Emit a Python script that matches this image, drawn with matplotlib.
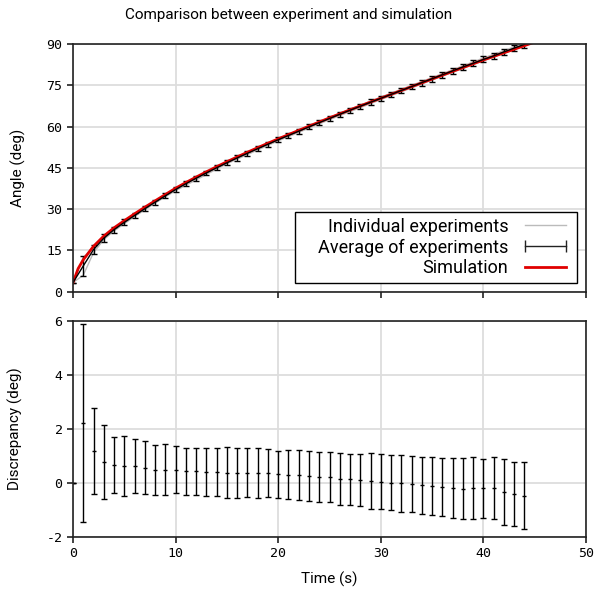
import matplotlib
matplotlib.use('Agg')
import matplotlib.pyplot as plt
from matplotlib.lines import Line2D

plt.rcParams['font.family'] = ['Roboto', 'DejaVu Sans']
plt.rcParams['axes.unicode_minus'] = False

# time of the averaged samples (s)
time = list(range(0, 45))

# simulation angle (deg)
sim_time = [0, 0.5] + list(range(1, 46))
sim_angle = [3.3, 8.4, 11.6, 16.5, 20.2, 23.2, 25.8, 28.3, 30.7, 33.0, 35.3, 37.6,
             39.65, 41.63, 43.55, 45.41, 47.21, 48.96, 50.66, 52.32, 53.94, 55.52,
             57.07, 58.61, 60.14, 61.65, 63.15, 64.62, 66.07, 67.5, 68.91, 70.3,
             71.7, 73.1, 74.49, 75.88, 77.27, 78.66, 80.05, 81.43, 82.81, 84.19,
             85.5, 86.8, 88.1, 89.4, 90.7]

# average of experiments (deg)
avg_angle = [3.3, 9.37, 15.3, 19.41, 22.53, 25.17, 27.67, 30.13, 32.51, 34.81, 37.11,
             39.22, 41.2, 43.14, 45.01, 46.83, 48.59, 50.28, 51.95, 53.57, 55.2,
             56.76, 58.3, 59.88, 61.42, 62.93, 64.46, 65.93, 67.39, 68.84, 70.25,
             71.69, 73.11, 74.53, 75.97, 77.38, 78.81, 80.24, 81.65, 83.0, 84.39,
             85.69, 87.13, 88.51, 89.87]

# spread of experiments (deg)
spread = [0, 3.67, 1.59, 1.37, 1.03, 1.10, 1.0, 0.97, 0.92, 0.95, 0.87, 0.86, 0.88,
          0.88, 0.89, 0.95, 0.93, 0.90, 0.91, 0.90, 0.88, 0.90, 0.93, 0.93, 0.93,
          0.94, 0.96, 0.95, 0.98, 1.04, 1.03, 1.02, 1.05, 1.04, 1.06, 1.07, 1.06,
          1.10, 1.13, 1.15, 1.10, 1.15, 1.21, 1.20, 1.25]

# simulation minus average (deg)
discrepancy = [0, 2.23, 1.2, 0.79, 0.67, 0.63, 0.63, 0.57, 0.49, 0.49, 0.49, 0.43,
               0.43, 0.41, 0.40, 0.38, 0.37, 0.38, 0.37, 0.37, 0.32, 0.31, 0.31,
               0.26, 0.23, 0.22, 0.16, 0.14, 0.11, 0.07, 0.05, 0.01, -0.01, -0.04,
               -0.09, -0.11, -0.15, -0.19, -0.22, -0.19, -0.2, -0.19, -0.33, -0.41,
               -0.47]

# individual experiments (deg)
exp_time = [0, 1, 2, 3, 4, 6, 8, 10, 15, 20, 25, 30, 35, 40, 44]
exp_low = [3.3, 6.0, 14.2, 18.9, 22.1, 27.3, 32.2, 36.7, 46.5, 54.8, 62.5, 69.8,
           76.9, 83.9, 89.4]
exp_high = [3.3, 12.4, 16.4, 19.9, 22.9, 28.0, 32.8, 37.4, 47.1, 55.5, 63.3, 70.7,
            77.8, 84.9, 90.3]

fig = plt.figure(figsize=(5.98, 5.96), dpi=100)
ax1 = fig.add_axes([0.1221, 0.5106, 0.8579, 0.4156])
ax2 = fig.add_axes([0.1221, 0.099, 0.8579, 0.3624])

for ax in (ax1, ax2):
    ax.grid(True, color='#dddddd', linewidth=1.3)
    ax.set_axisbelow(True)
    for s in ax.spines.values():
        s.set_linewidth(1.2)
        s.set_color('#222222')
    ax.tick_params(direction='out', length=4, width=1.2, color='#222222')
    ax.set_xlim(0, 50)
    ax.set_xticks([0, 10, 20, 30, 40, 50])

# top: angle
ax1.plot(exp_time, exp_low, color='#bbbbbb', linewidth=1)
ax1.plot(exp_time, exp_high, color='#bbbbbb', linewidth=1)
ax1.errorbar(time, avg_angle, yerr=spread, color='black', linewidth=1,
             elinewidth=1, capsize=2.5)
ax1.plot(sim_time, sim_angle, color='#e00000', linewidth=2)
ax1.set_ylim(0, 90)
ax1.set_yticks([0, 15, 30, 45, 60, 75, 90])
ax1.set_xticklabels([])
ax1.set_ylabel('Angle (deg)', fontsize=11, labelpad=15)

fig.text(0.482, 0.975, 'Comparison between experiment and simulation',
         fontsize=11, ha='center', va='center')

handles = [Line2D([], [], color='#bbbbbb', linewidth=1),
           Line2D([], [], color='#222222', linewidth=1, marker='|', markersize=9),
           Line2D([], [], color='#e00000', linewidth=2)]
labels = ['Individual experiments', '    Average of experiments', 'Simulation']
leg = ax1.legend(handles, labels, loc='lower right', markerfirst=False,
                 numpoints=2, fontsize=13, handlelength=2.9, handletextpad=0.6,
                 fancybox=False, framealpha=1, edgecolor='black',
                 borderaxespad=0.5, labelspacing=0.15, borderpad=0.3)
leg.get_frame().set_linewidth(1)

# bottom: discrepancy
ax2.errorbar(time, discrepancy, yerr=spread, fmt='_', markersize=3,
             color='black', elinewidth=1, capsize=2)
ax2.set_ylim(-2, 6)
ax2.set_yticks([-2, 0, 2, 4, 6])
ax2.set_xlabel('Time (s)', fontsize=11, labelpad=8)
ax2.set_ylabel('Discrepancy (deg)', fontsize=11, labelpad=17)

for ax in (ax1, ax2):
    for lab in ax.get_yticklabels() + ax.get_xticklabels():
        lab.set_fontfamily('DejaVu Sans Mono')
        lab.set_fontsize(9.5)

fig.savefig('out.png', dpi=100)
